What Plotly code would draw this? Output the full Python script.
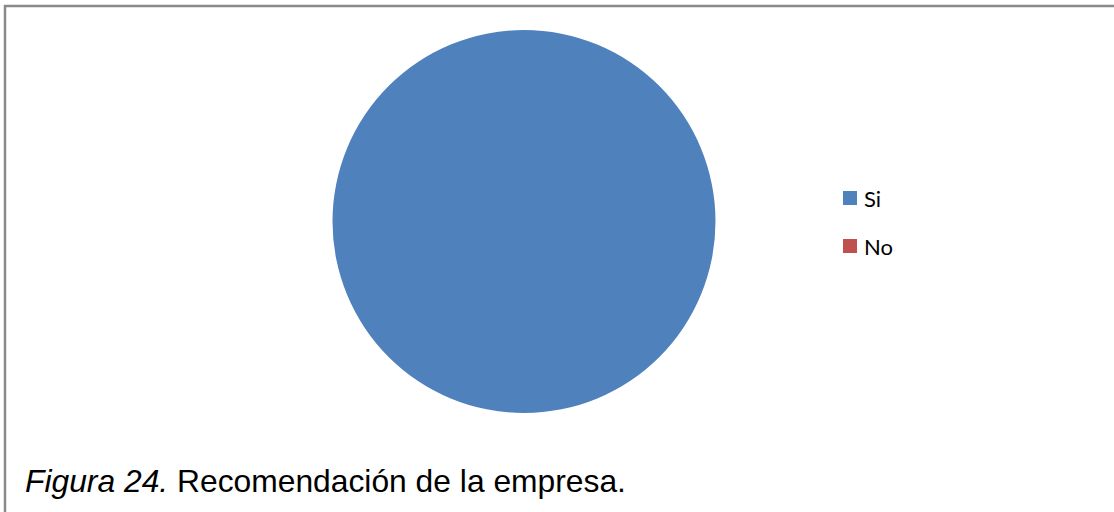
import plotly.graph_objects as go

# Survey answers: would the respondent recommend the company?
labels = ["Si", "No"]
values = [100, 0]
colors = ["#4F81BD", "#C0504D"]
caption_italic = "Figura 24."
caption_text = " Recomendación de la empresa."

W, H = 1114, 512


def px_x(x):
    return x / W


def px_y(y):
    return 1 - y / H


fig = go.Figure()
fig.add_trace(go.Pie(
    labels=labels,
    values=values,
    marker=dict(colors=colors, line=dict(width=0)),
    textinfo="none",
    hoverinfo="label+value",
    sort=False,
    direction="clockwise",
    showlegend=False,
    domain=dict(x=[px_x(524 - 191.5), px_x(524 + 191.5)],
                y=[px_y(413), px_y(30)]),
))

shapes = [
    # frame around the chart area (top and left edges)
    dict(type="line", xref="paper", yref="paper",
         x0=px_x(4), x1=1.0, y0=px_y(6), y1=px_y(6),
         line=dict(color="#8a8a8a", width=2.5)),
    dict(type="line", xref="paper", yref="paper",
         x0=px_x(5), x1=px_x(5), y0=px_y(5), y1=0.0,
         line=dict(color="#8a8a8a", width=2.5)),
]
annotations = []

# legend entries: square swatch + label
leg_x, leg_y0, leg_step, sw = 843, 198, 48, 14
for i, (lab, col) in enumerate(zip(labels, colors)):
    cy = leg_y0 + i * leg_step
    shapes.append(dict(type="rect", xref="paper", yref="paper",
                       x0=px_x(leg_x), x1=px_x(leg_x + sw),
                       y0=px_y(cy + sw / 2), y1=px_y(cy - sw / 2),
                       fillcolor=col, line=dict(width=0)))
    annotations.append(dict(xref="paper", yref="paper",
                            x=px_x(leg_x + sw + 5), y=px_y(cy),
                            xanchor="left", yanchor="middle",
                            text=lab, showarrow=False,
                            font=dict(family="Lato, Open Sans, sans-serif",
                                      size=22, color="#000000")))

annotations.append(dict(
    xref="paper", yref="paper", x=px_x(23), y=px_y(481),
    xanchor="left", yanchor="middle", showarrow=False,
    text=f"<i>{caption_italic}</i>{caption_text}",
    font=dict(family="Liberation Sans, Arial, sans-serif", size=31.8, color="#000000"),
))

fig.update_layout(
    width=W, height=H,
    margin=dict(l=0, r=0, t=0, b=0),
    paper_bgcolor="white",
    plot_bgcolor="white",
    shapes=shapes,
    annotations=annotations,
)

fig.write_html("out.html")
